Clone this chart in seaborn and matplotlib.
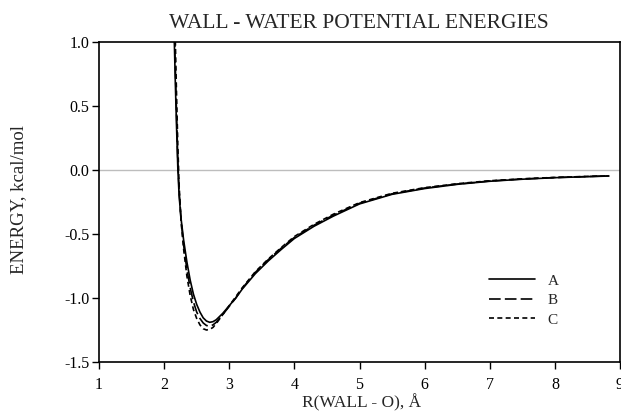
import matplotlib
matplotlib.use("Agg")
import matplotlib.pyplot as plt
import seaborn as sns
import pandas as pd

r = [2.15, 2.17, 2.19, 2.21, 2.23, 2.26, 2.30, 2.35, 2.40, 2.45, 2.50, 2.55,
     2.60, 2.65, 2.70, 2.75, 2.80, 2.90, 3.0, 3.1, 3.2, 3.4, 3.6, 3.8, 4.0,
     4.3, 4.6, 5.0, 5.5, 6.0, 6.5, 7.0, 7.5, 8.0, 8.5, 8.83]

energy_a = [1.15, 0.72, 0.35, 0.02, -0.20, -0.38, -0.55, -0.72, -0.86, -0.97,
            -1.05, -1.11, -1.155, -1.18, -1.19, -1.185, -1.17, -1.12, -1.06,
            -1.0, -0.93, -0.81, -0.71, -0.62, -0.535, -0.44, -0.36, -0.265,
            -0.19, -0.145, -0.112, -0.088, -0.072, -0.06, -0.052, -0.047]

energy_b = [1.3, 0.85, 0.45, 0.08, -0.16, -0.39, -0.59, -0.78, -0.92, -1.03,
            -1.11, -1.16, -1.195, -1.215, -1.22, -1.21, -1.19, -1.13, -1.065,
            -1.0, -0.925, -0.80, -0.70, -0.61, -0.527, -0.432, -0.352, -0.26,
            -0.186, -0.141, -0.11, -0.086, -0.07, -0.059, -0.051, -0.046]

energy_c = [1.6, 1.05, 0.6, 0.2, -0.12, -0.40, -0.62, -0.83, -0.98, -1.09,
            -1.16, -1.21, -1.24, -1.25, -1.245, -1.23, -1.20, -1.13, -1.06,
            -0.99, -0.92, -0.795, -0.695, -0.605, -0.52, -0.425, -0.345,
            -0.255, -0.182, -0.138, -0.107, -0.084, -0.069, -0.058, -0.05,
            -0.045]

series_names = ["A", "B", "C"]
x_ticks = [1, 2, 3, 4, 5, 6, 7, 8, 9]
y_ticks = [-1.5, -1.0, -0.5, 0.0, 0.5, 1.0]

title = "WALL - WATER POTENTIAL ENERGIES"
xlabel = "R(WALL - O), Å"
ylabel = "ENERGY, kcal/mol"

df = pd.concat([
    pd.DataFrame({"r": r, "E": e, "model": name})
    for name, e in zip(series_names, [energy_a, energy_b, energy_c])
], ignore_index=True)

sns.set_theme(style="ticks")
plt.rcParams["font.family"] = ["Liberation Serif", "DejaVu Serif"]

W, H = 621, 413
fig = plt.figure(figsize=(W / 100, H / 100), dpi=100)
ax = fig.add_axes([99 / W, 1 - 362 / H, 521 / W, 320 / H])

ax.axhline(0, color="#bdbdbd", lw=1.0, zorder=1)

sns.lineplot(data=df, x="r", y="E", style="model", color="black",
             dashes={"A": "", "B": (7, 2.5), "C": (3, 2)},
             linewidth=1.2, ax=ax, sort=False, zorder=3)

ax.set_xlim(1, 9)
ax.set_ylim(-1.5, 1.0)
ax.set_xticks(x_ticks)
ax.set_xticklabels([str(t) for t in x_ticks])
ax.set_yticks(y_ticks)
ax.set_yticklabels([f"{t:.1f}" for t in y_ticks])
ax.tick_params(axis="both", direction="out", length=5, width=1,
               labelsize=11.5, colors="black")
ax.tick_params(axis="y", pad=2)
ax.tick_params(axis="x", pad=6)

for s in ax.spines.values():
    s.set_visible(True)
    s.set_color("black")
    s.set_linewidth(1.2)

ax.set_xlabel("")
ax.set_ylabel("")

fig.text(359 / W, 1 - 23 / H, title, ha="center", va="center", fontsize=15.5)
fig.text(362 / W, 1 - 403 / H, xlabel, ha="center", va="center", fontsize=12.5)
fig.text(19 / W, 1 - 200 / H, ylabel, ha="center", va="center",
         rotation=90, fontsize=13.5)

handles, labels = ax.get_legend_handles_labels()
pairs = [(h, l) for h, l in zip(handles, labels) if l in series_names]
leg = ax.legend([p[0] for p in pairs], [p[1] for p in pairs],
                frameon=False, fontsize=11, handlelength=3.0,
                loc="upper left", bbox_to_anchor=(0.722, 0.318),
                labelspacing=0.38, handletextpad=0.85)
for line in leg.get_lines():
    line.set_linewidth(1.2)

fig.savefig("out.png", dpi=100)
